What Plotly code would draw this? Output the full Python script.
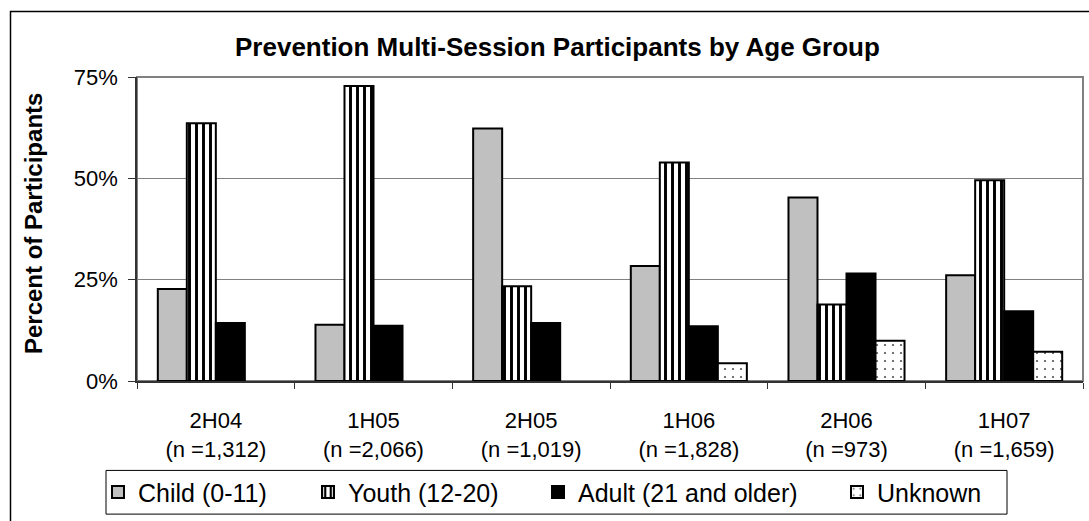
import plotly.graph_objects as go

# Reporting periods and their participant counts
periods = ["2H04", "1H05", "2H05", "1H06", "2H06", "1H07"]
sample_sizes = ["1,312", "2,066", "1,019", "1,828", "973", "1,659"]

# Share of participants (%) in each age group
child = [22.7, 13.9, 62.3, 28.4, 45.3, 26.1]
youth = [63.6, 72.8, 23.4, 53.9, 18.9, 49.5]
adult = [14.3, 13.6, 14.3, 13.5, 26.5, 17.2]
unknown = [None, None, None, 4.4, 9.9, 7.2]

series_names = ["Child (0-11)", "Youth (12-20)", "Adult (21 and older)", "Unknown"]
y_ticks = [0, 25, 50, 75]
y_tick_labels = ["0%", "25%", "50%", "75%"]

categories = [f"{p}<br>(n ={n})" for p, n in zip(periods, sample_sizes)]

# Page geometry (pixels)
W, H = 1089, 521
L, R, T, B = 137, 6, 77, 138
PW, PH = W - L - R, H - T - B


def px(x):
    return (x - L) / PW


def py(y):
    return (H - B - y) / PH


FONT = "Liberation Sans, Arial, sans-serif"
OUTLINE = dict(color="black", width=2)

styles = [
    dict(color="#C0C0C0", line=OUTLINE),
    dict(color="white", line=OUTLINE,
         pattern=dict(shape="|", fgcolor="black", bgcolor="white",
                      size=7, solidity=0.42, fillmode="replace")),
    dict(color="black", line=OUTLINE),
    dict(color="white", line=OUTLINE,
         pattern=dict(shape=".", fgcolor="#444444", bgcolor="white",
                      size=8, solidity=0.05, fillmode="replace")),
]

fig = go.Figure()
legend_ids = ["legend", "legend2", "legend3", "legend4"]
for name, vals, style, lg in zip(series_names, [child, youth, adult, unknown],
                                 styles, legend_ids):
    fig.add_trace(go.Bar(x=categories, y=vals, name=name, marker=style,
                         legend=lg, showlegend=True, hoverinfo="x+y"))

# One legend per series so each entry sits where it belongs in the key box
legend_text_x = [138, 348, 578, 877]
legend_layout = {}
for lg, tx in zip(legend_ids, legend_text_x):
    legend_layout[lg] = dict(
        x=px(tx - 40), xanchor="left",
        y=py(495), yanchor="middle",
        orientation="h", bgcolor="rgba(0,0,0,0)", borderwidth=0,
        font=dict(family=FONT, size=25, color="black"),
    )

fig.update_layout(
    width=W, height=H,
    margin=dict(l=L, r=R, t=T, b=B, pad=0),
    paper_bgcolor="white", plot_bgcolor="white",
    barmode="group", bargap=0.264, bargroupgap=0,
    showlegend=True,
    font=dict(family=FONT, color="black"),
    **legend_layout,
)

fig.update_xaxes(
    type="category", tickson="boundaries",
    ticks="outside", ticklen=6, tickwidth=1, tickcolor="#333333",
    showline=True, linecolor="#333333", linewidth=1.5,
    showgrid=False,
    tickfont=dict(family=FONT, size=22, color="black"),
    ticklabelstandoff=19,
)
fig.update_yaxes(
    range=[0, 75], tickmode="array", tickvals=y_ticks, ticktext=y_tick_labels,
    ticks="outside", ticklen=7, tickwidth=1, tickcolor="#333333",
    showline=True, linecolor="#333333", linewidth=1.5,
    showgrid=True, gridcolor="#808080", gridwidth=1,
    zeroline=False,
    tickfont=dict(family=FONT, size=22, color="black"),
    ticklabelstandoff=6,
)

fig.update_layout(
    shapes=[
        # plot-area frame
        dict(type="rect", xref="paper", yref="paper", x0=0, x1=1, y0=0, y1=1,
             line=dict(color="#808080", width=2), layer="below"),
        # outer chart border
        dict(type="rect", xref="paper", yref="paper",
             x0=px(10.5), x1=px(1110), y0=py(540), y1=py(11),
             line=dict(color="black", width=1.5)),
        # legend key box
        dict(type="rect", xref="paper", yref="paper",
             x0=px(106), x1=px(1007), y0=py(517), y1=py(473),
             line=dict(color="black", width=1)),
    ],
    annotations=[
        dict(text="<b>Prevention Multi-Session Participants by Age Group</b>",
             xref="paper", yref="paper", x=px(557), y=py(47),
             xanchor="center", yanchor="middle", showarrow=False,
             font=dict(family=FONT, size=26, color="black")),
        dict(text="<b>Percent of Participants</b>", textangle=-90,
             xref="paper", yref="paper", x=px(33), y=py(225),
             xanchor="center", yanchor="middle", showarrow=False,
             font=dict(family=FONT, size=24, color="black")),
    ],
)

fig.write_html("out.html")
